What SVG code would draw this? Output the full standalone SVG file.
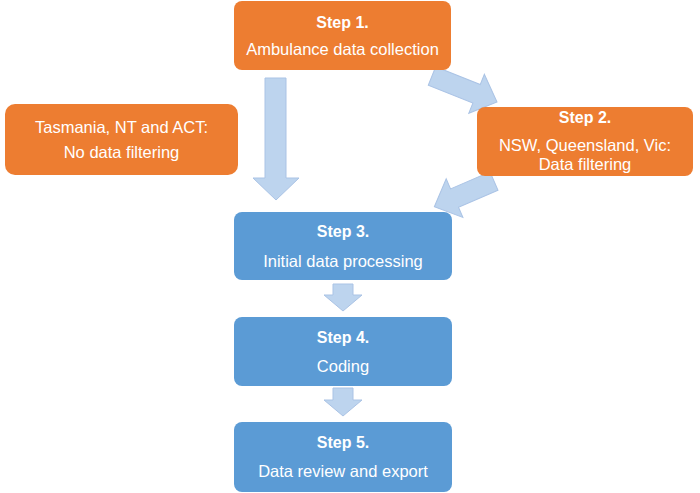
<svg xmlns="http://www.w3.org/2000/svg" width="700" height="493" viewBox="0 0 700 493">
<style>
.o{fill:#ED7D31;}
.b{fill:#5B9BD5;}
.t{font-family:"Liberation Sans",Arial,sans-serif;font-size:16.5px;fill:#fff;text-anchor:middle;}
.h{font-weight:bold;font-size:16px;}
.a{fill:#BDD4EE;stroke:#AAC3E5;stroke-width:1;}
</style>
<rect width="700" height="493" fill="#fff"/>
<g id="connectors">
<polygon class="a" points="265,78 286,78 286,178 299,178 276,200 253,178 265,178"/>
<g transform="translate(432,76) rotate(21.8)"><polygon class="a" points="0,-10 48,-10 48,-21 70,0 48,21 48,10 0,10"/></g>
<g transform="translate(494,181) rotate(156.6)"><polygon class="a" points="0,-10 43,-10 43,-21 65,0 43,21 43,10 0,10"/></g>
<polygon class="a" points="333,284 353,284 353,295 362,295 343,311 324,295 333,295"/>
<polygon class="a" points="333,388 353,388 353,400 362,400 343,416 324,400 333,400"/>
</g>
<g id="step1">
<rect class="o" x="234" y="1" width="217" height="69" rx="8"/>
<text class="t h" x="342.5" y="28">Step 1.</text>
<text class="t" x="342.5" y="55">Ambulance data collection</text>
</g>
<g id="tas">
<rect class="o" x="5" y="104" width="233" height="71" rx="10"/>
<text class="t" x="121.5" y="133">Tasmania, NT and ACT:</text>
<text class="t" x="121.5" y="158">No data filtering</text>
</g>
<g id="step2">
<rect class="o" x="477" y="107" width="216" height="69" rx="8"/>
<text class="t h" x="585" y="123">Step 2.</text>
<text class="t" x="585" y="151">NSW, Queensland, Vic:</text>
<text class="t" x="585" y="170">Data filtering</text>
</g>
<g id="step3">
<rect class="b" x="234" y="212" width="218" height="68" rx="8"/>
<text class="t h" x="343" y="237">Step 3.</text>
<text class="t" x="343" y="267">Initial data processing</text>
</g>
<g id="step4">
<rect class="b" x="234" y="317" width="218" height="69" rx="8"/>
<text class="t h" x="343" y="343">Step 4.</text>
<text class="t" x="343" y="372">Coding</text>
</g>
<g id="step5">
<rect class="b" x="234" y="422" width="218" height="70" rx="8"/>
<text class="t h" x="343" y="448">Step 5.</text>
<text class="t" x="343" y="477">Data review and export</text>
</g>
</svg>
